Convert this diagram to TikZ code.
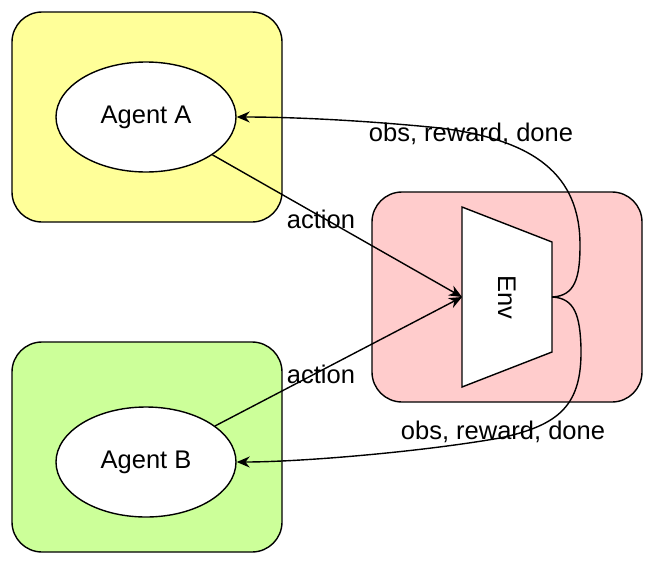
\documentclass[tikz,border=0pt]{standalone}
\usepackage{fontspec}
\setmainfont{Liberation Sans}
\usetikzlibrary{arrows.meta,shapes.geometric}
\definecolor{boxyellow}{HTML}{FFFF99}
\definecolor{boxgreen}{HTML}{CCFF99}
\definecolor{boxpink}{HTML}{FFCCCC}
\tikzset{
  panel/.style={draw=black, line width=1.4pt, rounded corners=30pt},
  agent/.style={draw=black, fill=white, ellipse, line width=1.4pt, minimum width=180pt, minimum height=110pt, inner sep=0pt},
  conn/.style={draw=black, line width=1.4pt, -{Stealth[length=13pt,width=11pt]}},
  lbl/.style={font=\fontsize{25.5}{29}\selectfont, inner sep=0pt},
}
\begin{document}
\begin{tikzpicture}[x=1pt,y=-1pt, font=\fontsize{25.5}{29}\selectfont]
\useasboundingbox (0,0) rectangle (655,565);
% panels
\path[panel, fill=boxyellow] (12,12) rectangle (282,222);
\path[panel, fill=boxgreen] (12,342) rectangle (282,552);
\path[panel, fill=boxpink] (372,192) rectangle (642,402);
% agents
\node[agent] (a) at (146,117) {Agent A};
\node[agent] (b) at (146,462) {Agent B};
% env trapezoid
\draw[fill=white, line width=1.4pt] (462,207) -- (552,242) -- (552,352) -- (462,387) -- cycle;
\node[rotate=-90, inner sep=0pt] (env) at (507,297) {Env};
\coordinate (envl) at (462,297);
\coordinate (envr) at (552,297);
% actions
\draw[conn] (a) -- (envl);
\draw[conn] (b) -- (envl);
\node[lbl] (act1) at (321,219) {action};
\node[lbl] (act2) at (321,374) {action};
% obs curves
\draw[conn] (envr) .. controls (575,296) and (580,278) .. (580,245)
   .. controls (580,175) and (535,140) .. (440,128)
   .. controls (360,120) and (290,117) .. (a.east);
\draw[conn] (envr) .. controls (575,298) and (580,316) .. (581,348)
   .. controls (582,405) and (560,425) .. (500,438)
   .. controls (420,452) and (300,462) .. (b.east);
\node[lbl] (obs1) at (471,134) {obs, reward, done};
\node[lbl] (obs2) at (503,432) {obs, reward, done};
\end{tikzpicture}
\end{document}
